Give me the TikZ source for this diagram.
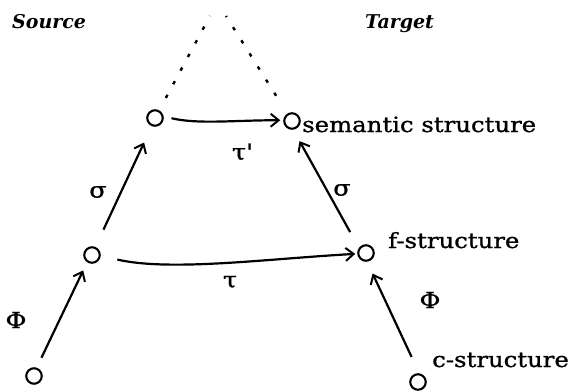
\documentclass[tikz,border=0pt]{standalone}
\usepackage{fontspec}
\setmainfont[FakeStretch=1.16,FakeBold=1]{DejaVu Serif}
\newfontfamily\headfont{DejaVu Serif}
\usetikzlibrary{arrows.meta}

\begin{document}
\begin{tikzpicture}[
  x=1pt, y=-1pt,
  font=\fontsize{21}{24}\selectfont,
  pt/.style={draw, circle, line width=2.1pt, minimum size=15.5pt, inner sep=0pt},
  lbl/.style={inner sep=0pt, anchor=base west},
  head/.style={lbl, font=\headfont\fontsize{19}{22}\selectfont\bfseries\itshape},
  sym/.style={inner sep=0pt, font=\fontsize{22}{24}\selectfont},
  map/.style={->, line width=2.2pt},
  dotline/.style={line width=2.4pt, dash pattern=on 3.5pt off 12pt},
  >={Straight Barb[length=8pt,width=13pt,line width=2pt]}
]
\useasboundingbox (0,0) rectangle (569,391);
\node[pt] (cs) at (34,376) {};
\node[pt] (fs) at (92,255) {};
\node[pt] (ss) at (155,118) {};
\node[pt] (ct) at (418,382) {};
\node[pt] (ft) at (366,253) {};
\node[pt] (st) at (292,121) {};
\coordinate (apexs) at (210,16);
\coordinate (apext) at (226,16);

\node[head] (src) at (12,28) {Source};
\node[head] (tgt) at (365,28) {Target};
\node[lbl] (stl) at (302,132) {semantic structure};
\node[lbl] (ftl) at (388,248) {f-structure};
\node[lbl] (ctl) at (432,367) {c-structure};

\node[sym] (sigs) at (98,192) {σ};
\node[sym] (sigt) at (342,190) {σ};
\node[sym] (taup) at (242,152) {τ\textquotesingle};
\node[sym] (tau) at (230,282) {τ};
\node[sym] (phis) at (16,320) {Φ};
\node[sym] (phit) at (430,300) {Φ};

\draw[map, shorten <=11pt, shorten >=9pt] (cs.72) -- (fs.-124);
\draw[map, shorten <=19pt, shorten >=18pt] (fs.67) -- (ss.-112);
\draw[map, shorten <=18pt, shorten >=13pt] (ct.82) -- (ft.-83);
\draw[map, shorten <=18pt, shorten >=13pt] (ft.144) -- (st.-82);
\draw[map, shorten <=17pt, shorten >=2pt] (fs.-5) .. controls +(70,16) and +(-90,5) .. (ft.185);
\draw[map, shorten <=8pt, shorten >=3pt] (ss.10) .. controls +(35,8) and +(-50,0) .. (st.175);
\draw[dotline, shorten <=14pt] (ss) -- (apexs);
\draw[dotline, shorten <=21pt] (st) -- (apext);
\end{tikzpicture}
\end{document}
